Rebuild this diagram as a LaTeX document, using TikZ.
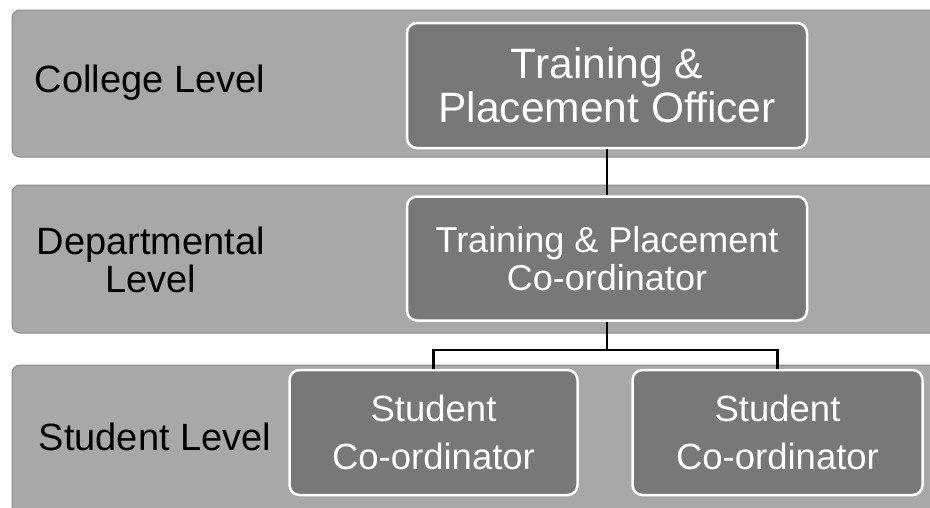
\documentclass[tikz,border=0pt]{standalone}
\usepackage{fontspec}
\setmainfont{Liberation Sans}
\usetikzlibrary{positioning}

\begin{document}
\begin{tikzpicture}[x=1pt, y=-1pt,
    band/.style = {fill=black!34, draw=black!45, line width=1pt, rounded corners=8pt},
    role/.style = {fill=black!53, draw=white, line width=2.5pt, rounded corners=10pt,
                   text=white, align=center, inner sep=0pt},
    level/.style = {align=center, font=\fontsize{38}{38}\selectfont},
    link/.style = {line width=2.5pt}]
  \useasboundingbox (0,0) rectangle (930,507);

  % level bands
  \draw[band] (12,10) rectangle (945,157);
  \draw[band] (12,185) rectangle (945,333);
  \draw[band] (12,365) rectangle (945,525);

  % level names
  \node[level] (college) at (150,83) {College Level};
  \node[level] (dept) at (151,260) {Departmental\\Level};
  \node[level] (student) at (155,437) {Student Level};

  % roles
  \node[role, minimum width=400pt, minimum height=125pt,
        font=\fontsize{42.5}{44}\selectfont] (tpo) at (607,85.5) {Training \&\\Placement Officer};
  \node[role, minimum width=400pt, minimum height=124pt,
        font=\fontsize{36}{38}\selectfont] (tpc) at (607,258.5) {Training \& Placement\\Co-ordinator};
  \node[role, minimum width=288pt, minimum height=125pt,
        font=\fontsize{36.5}{48}\selectfont] (sc1) at (433.5,432.5) {Student\\Co-ordinator};
  \node[role, minimum width=290pt, minimum height=125pt,
        font=\fontsize{36.5}{48}\selectfont] (sc2) at (777.5,432.5) {Student\\Co-ordinator};

  % connectors
  \draw[link] (tpo) -- (tpc);
  \draw[link] (tpc.south) -- ++(0,28) coordinate (fork);
  \draw[link] (sc1.north) |- (fork) -| (sc2.north);
\end{tikzpicture}
\end{document}
